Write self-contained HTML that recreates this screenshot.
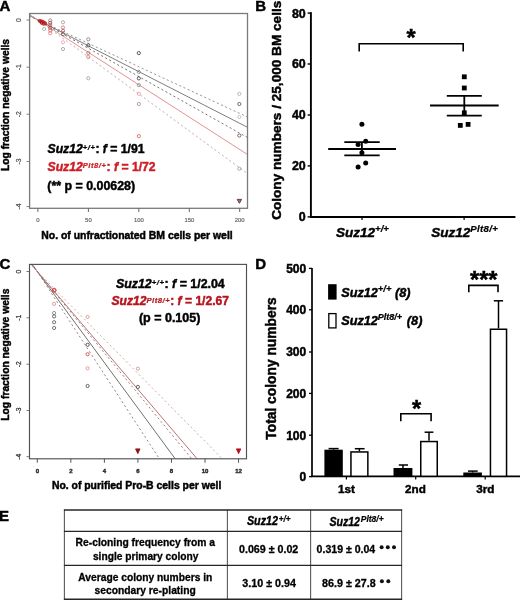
<!DOCTYPE html>
<html><head><meta charset="utf-8"><style>
html,body{margin:0;padding:0;background:#fff;width:520px;height:600px;overflow:hidden}
svg{display:block;filter:blur(0.3px)}
text{font-family:"Liberation Sans", sans-serif}
</style></head><body>
<svg width="520" height="600" viewBox="0 0 520 600">
<rect width="520" height="600" fill="#fff"/>
<text x="-0.5" y="11.0" font-size="15.0" font-weight="bold" font-style="normal" fill="#000" text-anchor="start" stroke="#000" stroke-width="0.45" >A</text>
<text x="255.2" y="10.8" font-size="15.0" font-weight="bold" font-style="normal" fill="#000" text-anchor="start" stroke="#000" stroke-width="0.45" >B</text>
<text x="-0.5" y="269" font-size="15.0" font-weight="bold" font-style="normal" fill="#000" text-anchor="start" stroke="#000" stroke-width="0.45" >C</text>
<text x="255.2" y="268.8" font-size="15.0" font-weight="bold" font-style="normal" fill="#000" text-anchor="start" stroke="#000" stroke-width="0.45" >D</text>
<text x="-1.0" y="521.2" font-size="15.0" font-weight="bold" font-style="normal" fill="#000" text-anchor="start" stroke="#000" stroke-width="0.45" >E</text>
<defs><clipPath id="cA"><rect x="30" y="14" width="217" height="193.5"/></clipPath><clipPath id="cC"><rect x="30" y="264.8" width="216.5" height="193.7"/></clipPath></defs>
<g>
<line x1="29" y1="15.88" x2="248" y2="117.23" stroke="#959595" stroke-width="1.0" stroke-dasharray="2.1 2.5" clip-path="url(#cA)"/>
<line x1="29" y1="15.44" x2="248" y2="127.56" stroke="#6e6e6e" stroke-width="0.9"  clip-path="url(#cA)"/>
<line x1="29" y1="15.01" x2="248" y2="137.78" stroke="#7a7272" stroke-width="1.0" stroke-dasharray="2.1 2.5" clip-path="url(#cA)"/>
<line x1="29" y1="14.29" x2="248" y2="154.82" stroke="#df8686" stroke-width="0.9"  clip-path="url(#cA)"/>
<line x1="29" y1="13.48" x2="248" y2="173.97" stroke="#c4acac" stroke-width="1.0" stroke-dasharray="2.1 2.5" clip-path="url(#cA)"/>
</g>
<circle cx="44.1" cy="29" r="1.6" fill="none" stroke="#9aa" stroke-width="0.8"/>
<circle cx="50.2" cy="20.4" r="1.6" fill="none" stroke="#977" stroke-width="0.8"/>
<circle cx="50.2" cy="22.8" r="1.6" fill="none" stroke="#844" stroke-width="0.8"/>
<circle cx="50.2" cy="25.2" r="1.6" fill="none" stroke="#a55" stroke-width="0.8"/>
<circle cx="50.2" cy="27.8" r="1.6" fill="none" stroke="#c44" stroke-width="0.8"/>
<circle cx="50.2" cy="30.4" r="1.6" fill="none" stroke="#c55" stroke-width="0.8"/>
<circle cx="50.2" cy="33.2" r="1.6" fill="none" stroke="#d77" stroke-width="0.8"/>
<circle cx="63" cy="22.3" r="1.6" fill="none" stroke="#999" stroke-width="0.8"/>
<circle cx="63" cy="27.5" r="1.6" fill="none" stroke="#d66" stroke-width="0.8"/>
<circle cx="63" cy="30.8" r="1.6" fill="none" stroke="#a55" stroke-width="0.8"/>
<circle cx="63" cy="34.2" r="1.6" fill="none" stroke="#666" stroke-width="0.8"/>
<circle cx="63" cy="42.3" r="1.6" fill="none" stroke="#e9a" stroke-width="0.8"/>
<circle cx="63" cy="49" r="1.6" fill="none" stroke="#999" stroke-width="0.8"/>
<circle cx="88.3" cy="39.3" r="1.6" fill="none" stroke="#877" stroke-width="0.8"/>
<circle cx="88.3" cy="45.4" r="1.6" fill="none" stroke="#333" stroke-width="0.8"/>
<circle cx="88.3" cy="53" r="1.6" fill="none" stroke="#b66" stroke-width="0.8"/>
<circle cx="88.3" cy="57" r="1.6" fill="none" stroke="#c77" stroke-width="0.8"/>
<circle cx="88.3" cy="78.3" r="1.6" fill="none" stroke="#999" stroke-width="0.8"/>
<circle cx="138.8" cy="53.1" r="1.6" fill="none" stroke="#333" stroke-width="0.8"/>
<circle cx="138.8" cy="71.9" r="1.6" fill="none" stroke="#888" stroke-width="0.8"/>
<circle cx="138.8" cy="78.4" r="1.6" fill="none" stroke="#333" stroke-width="0.8"/>
<circle cx="138.8" cy="85.1" r="1.6" fill="none" stroke="#888" stroke-width="0.8"/>
<circle cx="138.8" cy="93.8" r="1.6" fill="none" stroke="#e9a" stroke-width="0.8"/>
<circle cx="138.8" cy="104" r="1.6" fill="none" stroke="#a88" stroke-width="0.8"/>
<circle cx="138.8" cy="136.1" r="1.6" fill="none" stroke="#d55" stroke-width="0.8"/>
<circle cx="239.3" cy="93.8" r="1.6" fill="none" stroke="#aaa" stroke-width="0.8"/>
<circle cx="239.3" cy="104" r="1.6" fill="none" stroke="#644" stroke-width="0.8"/>
<circle cx="239.3" cy="117" r="1.6" fill="none" stroke="#bbb" stroke-width="0.8"/>
<circle cx="239.3" cy="135.5" r="1.6" fill="none" stroke="#644" stroke-width="0.8"/>
<circle cx="239.3" cy="168.7" r="1.6" fill="none" stroke="#999" stroke-width="0.8"/>
<circle cx="39.6" cy="20.9" r="1.45" fill="#d04040" fill-opacity="0.6" stroke="#b81414" stroke-width="0.9"/>
<circle cx="41.0" cy="21.3" r="1.45" fill="#d04040" fill-opacity="0.6" stroke="#b81414" stroke-width="0.9"/>
<circle cx="42.4" cy="21.8" r="1.45" fill="#d04040" fill-opacity="0.6" stroke="#b81414" stroke-width="0.9"/>
<circle cx="43.8" cy="22.4" r="1.45" fill="#d04040" fill-opacity="0.6" stroke="#b81414" stroke-width="0.9"/>
<circle cx="45.2" cy="23.3" r="1.45" fill="#d04040" fill-opacity="0.6" stroke="#b81414" stroke-width="0.9"/>
<circle cx="41.6" cy="22.9" r="1.45" fill="#d04040" fill-opacity="0.6" stroke="#b81414" stroke-width="0.9"/>
<circle cx="43.6" cy="23.9" r="1.45" fill="#d04040" fill-opacity="0.6" stroke="#b81414" stroke-width="0.9"/>
<path d="M237.2,199.4 L241.6,199.4 L239.4,203.3 Z" fill="#a07080" stroke="#6a3a4a" stroke-width="1"/>
<rect x="29.6" y="13.5" width="217.9" height="194.8" fill="none" stroke="#7a7a7a" stroke-width="1.3"/>
<line x1="26.50" y1="20.00" x2="29.50" y2="20.00" stroke="#777" stroke-width="0.9" />
<text transform="translate(20.8,20) rotate(-90)" font-size="6.8" fill="#555" stroke="#555" stroke-width="0.25" text-anchor="middle">0</text>
<line x1="26.50" y1="67.20" x2="29.50" y2="67.20" stroke="#777" stroke-width="0.9" />
<text transform="translate(20.8,67.2) rotate(-90)" font-size="6.8" fill="#555" stroke="#555" stroke-width="0.25" text-anchor="middle">-1</text>
<line x1="26.50" y1="114.20" x2="29.50" y2="114.20" stroke="#777" stroke-width="0.9" />
<text transform="translate(20.8,114.2) rotate(-90)" font-size="6.8" fill="#555" stroke="#555" stroke-width="0.25" text-anchor="middle">-2</text>
<line x1="26.50" y1="161.50" x2="29.50" y2="161.50" stroke="#777" stroke-width="0.9" />
<text transform="translate(20.8,161.5) rotate(-90)" font-size="6.8" fill="#555" stroke="#555" stroke-width="0.25" text-anchor="middle">-3</text>
<line x1="26.50" y1="206.60" x2="29.50" y2="206.60" stroke="#777" stroke-width="0.9" />
<text transform="translate(20.8,206.6) rotate(-90)" font-size="6.8" fill="#555" stroke="#555" stroke-width="0.25" text-anchor="middle">-4</text>
<line x1="37.90" y1="208.30" x2="37.90" y2="212.00" stroke="#666" stroke-width="1.0" />
<text x="37.9" y="222.0" font-size="5.9" font-weight="normal" font-style="normal" fill="#666" text-anchor="middle" stroke="#666" stroke-width="0.2" >0</text>
<line x1="88.40" y1="208.30" x2="88.40" y2="212.00" stroke="#666" stroke-width="1.0" />
<text x="88.4" y="222.0" font-size="5.9" font-weight="normal" font-style="normal" fill="#666" text-anchor="middle" stroke="#666" stroke-width="0.2" >50</text>
<line x1="138.80" y1="208.30" x2="138.80" y2="212.00" stroke="#666" stroke-width="1.0" />
<text x="138.8" y="222.0" font-size="5.9" font-weight="normal" font-style="normal" fill="#666" text-anchor="middle" stroke="#666" stroke-width="0.2" >100</text>
<line x1="189.30" y1="208.30" x2="189.30" y2="212.00" stroke="#666" stroke-width="1.0" />
<text x="189.3" y="222.0" font-size="5.9" font-weight="normal" font-style="normal" fill="#666" text-anchor="middle" stroke="#666" stroke-width="0.2" >150</text>
<line x1="239.70" y1="208.30" x2="239.70" y2="212.00" stroke="#666" stroke-width="1.0" />
<text x="239.7" y="222.0" font-size="5.9" font-weight="normal" font-style="normal" fill="#666" text-anchor="middle" stroke="#666" stroke-width="0.2" >200</text>
<text x="41.3" y="238.9" font-size="10.42" font-weight="bold" font-style="normal" fill="#000" text-anchor="start" stroke="#000" stroke-width="0.45" >No. of unfractionated BM cells per well</text>
<text transform="translate(8.6,105) rotate(-90)" x="0" y="0" font-size="10.3" font-weight="bold" fill="#000" stroke="#000" stroke-width="0.45" text-anchor="middle" >Log fraction negative wells</text>
<text x="47.5" y="152.5" font-size="12.2" font-weight="bold" fill="#000" stroke="#000" stroke-width="0.45" text-anchor="start"><tspan font-style="italic">Suz12</tspan><tspan font-style="italic" font-size="7.6" dy="-2.60" letter-spacing="0.55" stroke-width="0.23">+/+</tspan><tspan dy="2.60">: </tspan><tspan font-style="italic">f</tspan><tspan> = 1/91</tspan></text>
<text x="47.5" y="170.5" font-size="12.2" font-weight="bold" fill="#d01c24" stroke="#d01c24" stroke-width="0.45" text-anchor="start"><tspan font-style="italic">Suz12</tspan><tspan font-style="italic" font-size="7.6" dy="-2.60" letter-spacing="0.55" stroke-width="0.23">Plt8/+</tspan><tspan dy="2.60">: </tspan><tspan font-style="italic">f</tspan><tspan> = 1/72</tspan></text>
<text x="47.3" y="190.2" font-size="12.4" font-weight="bold" font-style="normal" fill="#000" text-anchor="start" stroke="#000" stroke-width="0.45" >(** p = 0.00628)</text>
<g>
<line x1="29" y1="258.77" x2="248" y2="594.72" stroke="#9a8888" stroke-width="1.0" stroke-dasharray="2.1 2.5" clip-path="url(#cC)"/>
<line x1="29" y1="260.23" x2="248" y2="557.64" stroke="#606060" stroke-width="0.9"  clip-path="url(#cC)"/>
<line x1="29" y1="261.43" x2="248" y2="527.02" stroke="#9a8484" stroke-width="1.0" stroke-dasharray="2.1 2.5" clip-path="url(#cC)"/>
<line x1="29" y1="261.78" x2="248" y2="518.37" stroke="#b06464" stroke-width="0.9"  clip-path="url(#cC)"/>
<line x1="29" y1="263.10" x2="248" y2="484.82" stroke="#d0acac" stroke-width="1.0" stroke-dasharray="2.1 2.5" clip-path="url(#cC)"/>
</g>
<circle cx="54.1" cy="290.3" r="1.6" fill="none" stroke="#c44" stroke-width="0.8"/>
<circle cx="54.1" cy="303.9" r="1.6" fill="none" stroke="#d88" stroke-width="0.8"/>
<circle cx="54.1" cy="313" r="1.6" fill="none" stroke="#777" stroke-width="0.8"/>
<circle cx="54.1" cy="316.4" r="1.6" fill="none" stroke="#444" stroke-width="0.8"/>
<circle cx="54.1" cy="322.2" r="1.6" fill="none" stroke="#555" stroke-width="0.8"/>
<circle cx="54.1" cy="328" r="1.6" fill="none" stroke="#555" stroke-width="0.8"/>
<circle cx="87.6" cy="316.9" r="1.6" fill="none" stroke="#d88" stroke-width="0.8"/>
<circle cx="87.6" cy="344.8" r="1.6" fill="none" stroke="#333" stroke-width="0.8"/>
<circle cx="87.6" cy="354.2" r="1.6" fill="none" stroke="#b44" stroke-width="0.8"/>
<circle cx="87.6" cy="368.3" r="1.6" fill="none" stroke="#d88" stroke-width="0.8"/>
<circle cx="87.6" cy="386" r="1.6" fill="none" stroke="#444" stroke-width="0.8"/>
<circle cx="137.9" cy="368.7" r="1.6" fill="none" stroke="#d88" stroke-width="0.8"/>
<circle cx="137.9" cy="386.9" r="1.6" fill="none" stroke="#444" stroke-width="0.8"/>
<circle cx="54.1" cy="290.3" r="2.0" fill="none" stroke="#c44" stroke-width="0.9"/>
<path d="M135.60000000000002,448.9 L140.0,448.9 L137.8,453.6 Z" fill="#8a1418" stroke="#8a1418" stroke-width="0.9" stroke-linejoin="round"/>
<path d="M236.4,448.9 L240.79999999999998,448.9 L238.6,453.6 Z" fill="#b8101c" stroke="#b8101c" stroke-width="0.9" stroke-linejoin="round"/>
<rect x="29.5" y="264.4" width="217" height="194.4" fill="none" stroke="#505050" stroke-width="1.15"/>
<line x1="26.50" y1="271.50" x2="29.50" y2="271.50" stroke="#555" stroke-width="0.8" />
<text transform="translate(20.8,271.5) rotate(-90)" font-size="6.8" fill="#333" stroke="#333" stroke-width="0.25" text-anchor="middle">0</text>
<line x1="26.50" y1="317.80" x2="29.50" y2="317.80" stroke="#555" stroke-width="0.8" />
<text transform="translate(20.8,317.8) rotate(-90)" font-size="6.8" fill="#333" stroke="#333" stroke-width="0.25" text-anchor="middle">-1</text>
<line x1="26.50" y1="364.20" x2="29.50" y2="364.20" stroke="#555" stroke-width="0.8" />
<text transform="translate(20.8,364.2) rotate(-90)" font-size="6.8" fill="#333" stroke="#333" stroke-width="0.25" text-anchor="middle">-2</text>
<line x1="26.50" y1="410.50" x2="29.50" y2="410.50" stroke="#555" stroke-width="0.8" />
<text transform="translate(20.8,410.5) rotate(-90)" font-size="6.8" fill="#333" stroke="#333" stroke-width="0.25" text-anchor="middle">-3</text>
<line x1="26.50" y1="456.70" x2="29.50" y2="456.70" stroke="#555" stroke-width="0.8" />
<text transform="translate(20.8,456.7) rotate(-90)" font-size="6.8" fill="#333" stroke="#333" stroke-width="0.25" text-anchor="middle">-4</text>
<line x1="37.30" y1="458.80" x2="37.30" y2="462.80" stroke="#444" stroke-width="0.9" />
<text x="37.3" y="472.9" font-size="6.0" font-weight="bold" font-style="normal" fill="#333" text-anchor="middle" stroke="#333" stroke-width="0.45" >0</text>
<line x1="70.84" y1="458.80" x2="70.84" y2="462.80" stroke="#444" stroke-width="0.9" />
<text x="70.84" y="472.9" font-size="6.0" font-weight="bold" font-style="normal" fill="#333" text-anchor="middle" stroke="#333" stroke-width="0.45" >2</text>
<line x1="104.38" y1="458.80" x2="104.38" y2="462.80" stroke="#444" stroke-width="0.9" />
<text x="104.38" y="472.9" font-size="6.0" font-weight="bold" font-style="normal" fill="#333" text-anchor="middle" stroke="#333" stroke-width="0.45" >4</text>
<line x1="137.92" y1="458.80" x2="137.92" y2="462.80" stroke="#444" stroke-width="0.9" />
<text x="137.92000000000002" y="472.9" font-size="6.0" font-weight="bold" font-style="normal" fill="#333" text-anchor="middle" stroke="#333" stroke-width="0.45" >6</text>
<line x1="171.46" y1="458.80" x2="171.46" y2="462.80" stroke="#444" stroke-width="0.9" />
<text x="171.45999999999998" y="472.9" font-size="6.0" font-weight="bold" font-style="normal" fill="#333" text-anchor="middle" stroke="#333" stroke-width="0.45" >8</text>
<line x1="205.00" y1="458.80" x2="205.00" y2="462.80" stroke="#444" stroke-width="0.9" />
<text x="205.0" y="472.9" font-size="6.0" font-weight="bold" font-style="normal" fill="#333" text-anchor="middle" stroke="#333" stroke-width="0.45" >10</text>
<line x1="238.54" y1="458.80" x2="238.54" y2="462.80" stroke="#444" stroke-width="0.9" />
<text x="238.54000000000002" y="472.9" font-size="6.0" font-weight="bold" font-style="normal" fill="#333" text-anchor="middle" stroke="#333" stroke-width="0.45" >12</text>
<text x="51.9" y="488.6" font-size="10.42" font-weight="bold" font-style="normal" fill="#000" text-anchor="start" stroke="#000" stroke-width="0.45" >No. of purified Pro-B cells per well</text>
<text transform="translate(8.6,354.7) rotate(-90)" x="0" y="0" font-size="10.3" font-weight="bold" fill="#000" stroke="#000" stroke-width="0.45" text-anchor="middle" >Log fraction negative wells</text>
<text x="115.9" y="287.9" font-size="12.4" font-weight="bold" fill="#000" stroke="#000" stroke-width="0.45" text-anchor="start"><tspan font-style="italic">Suz12</tspan><tspan font-style="italic" font-size="7.7" dy="-2.70" letter-spacing="0.55" stroke-width="0.23">+/+</tspan><tspan dy="2.70">: </tspan><tspan font-style="italic">f</tspan><tspan> = 1/2.04</tspan></text>
<text x="111.5" y="305.2" font-size="12.1" font-weight="bold" fill="#b8141e" stroke="#b8141e" stroke-width="0.45" text-anchor="start"><tspan font-style="italic">Suz12</tspan><tspan font-style="italic" font-size="7.7" dy="-2.70" letter-spacing="0.5" stroke-width="0.23">Plt8/+</tspan><tspan dy="2.70">: </tspan><tspan font-style="italic">f</tspan><tspan> = 1/2.67</tspan></text>
<text x="138.9" y="322.2" font-size="12.5" font-weight="bold" font-style="normal" fill="#000" text-anchor="start" stroke="#000" stroke-width="0.45" >(p = 0.105)</text>
<line x1="310.90" y1="12.10" x2="310.90" y2="218.00" stroke="#000" stroke-width="1.9" />
<line x1="310.00" y1="217.00" x2="515.40" y2="217.00" stroke="#000" stroke-width="1.9" />
<line x1="307.60" y1="13.10" x2="310.50" y2="13.10" stroke="#000" stroke-width="1.4" />
<text x="305.7" y="17.5" font-size="12.4" font-weight="bold" font-style="normal" fill="#000" text-anchor="end" stroke="#000" stroke-width="0.45" >80</text>
<line x1="307.60" y1="64.00" x2="310.50" y2="64.00" stroke="#000" stroke-width="1.4" />
<text x="305.7" y="68.4" font-size="12.4" font-weight="bold" font-style="normal" fill="#000" text-anchor="end" stroke="#000" stroke-width="0.45" >60</text>
<line x1="307.60" y1="115.00" x2="310.50" y2="115.00" stroke="#000" stroke-width="1.4" />
<text x="305.7" y="119.4" font-size="12.4" font-weight="bold" font-style="normal" fill="#000" text-anchor="end" stroke="#000" stroke-width="0.45" >40</text>
<line x1="307.60" y1="165.90" x2="310.50" y2="165.90" stroke="#000" stroke-width="1.4" />
<text x="305.7" y="170.3" font-size="12.4" font-weight="bold" font-style="normal" fill="#000" text-anchor="end" stroke="#000" stroke-width="0.45" >20</text>
<line x1="307.60" y1="216.90" x2="310.50" y2="216.90" stroke="#000" stroke-width="1.4" />
<text x="305.7" y="221.3" font-size="12.4" font-weight="bold" font-style="normal" fill="#000" text-anchor="end" stroke="#000" stroke-width="0.45" >0</text>
<line x1="362.00" y1="217.00" x2="362.00" y2="220.00" stroke="#000" stroke-width="1.2" />
<line x1="464.10" y1="217.00" x2="464.10" y2="220.00" stroke="#000" stroke-width="1.2" />
<text x="336" y="237" font-size="13.5" font-weight="bold" fill="#000" stroke="#000" stroke-width="0.45" text-anchor="start"><tspan font-style="italic">Suz12</tspan><tspan font-style="italic" font-size="9.6" dy="-4.80" stroke-width="0.23">+/+</tspan></text>
<text x="431.2" y="237" font-size="13.5" font-weight="bold" fill="#000" stroke="#000" stroke-width="0.45" text-anchor="start"><tspan font-style="italic">Suz12</tspan><tspan font-style="italic" font-size="9.6" dy="-4.80" letter-spacing="0.35" stroke-width="0.23">Plt8/+</tspan></text>
<text transform="translate(280.6,110.3) rotate(-90)" x="0" y="0" font-size="13.6" font-weight="bold" fill="#000" stroke="#000" stroke-width="0.45" text-anchor="middle" >Colony numbers / 25,000 BM cells</text>
<line x1="328.20" y1="149.00" x2="396.00" y2="149.00" stroke="#000" stroke-width="1.8" />
<line x1="344.30" y1="142.20" x2="379.70" y2="142.20" stroke="#000" stroke-width="1.8" />
<line x1="344.30" y1="155.40" x2="379.70" y2="155.40" stroke="#000" stroke-width="1.8" />
<line x1="361.90" y1="142.20" x2="361.90" y2="155.40" stroke="#000" stroke-width="1.8" />
<circle cx="361.9" cy="124.2" r="2.5" fill="#000"/>
<circle cx="365.7" cy="141.2" r="2.5" fill="#000"/>
<circle cx="358.1" cy="144.6" r="2.5" fill="#000"/>
<circle cx="361.9" cy="152.8" r="2.5" fill="#000"/>
<circle cx="365.7" cy="163.1" r="2.5" fill="#000"/>
<circle cx="358.1" cy="167.1" r="2.5" fill="#000"/>
<line x1="430.00" y1="105.50" x2="498.70" y2="105.50" stroke="#000" stroke-width="1.8" />
<line x1="446.80" y1="95.80" x2="481.80" y2="95.80" stroke="#000" stroke-width="1.8" />
<line x1="446.80" y1="115.70" x2="481.80" y2="115.70" stroke="#000" stroke-width="1.8" />
<line x1="464.30" y1="95.80" x2="464.30" y2="115.70" stroke="#000" stroke-width="1.8" />
<rect x="461.90000000000003" y="74.39999999999999" width="4.8" height="4.8" fill="#000"/>
<rect x="461.90000000000003" y="85.6" width="4.8" height="4.8" fill="#000"/>
<rect x="461.90000000000003" y="110.39999999999999" width="4.8" height="4.8" fill="#000"/>
<rect x="457.90000000000003" y="123.0" width="4.8" height="4.8" fill="#000"/>
<rect x="465.70000000000005" y="122.0" width="4.8" height="4.8" fill="#000"/>
<path d="M359.2,51.4 V43.8 H463.2 V51.4" fill="none" stroke="#000" stroke-width="1.6"/>
<text x="411.2" y="45.6" font-size="23.5" font-weight="bold" font-style="normal" fill="#000" text-anchor="middle" stroke="#000" stroke-width="0.45" >*</text>
<line x1="312.00" y1="268.00" x2="312.00" y2="477.00" stroke="#000" stroke-width="1.7" />
<line x1="311.20" y1="476.30" x2="520.00" y2="476.30" stroke="#000" stroke-width="1.7" />
<line x1="309.00" y1="268.40" x2="312.00" y2="268.40" stroke="#000" stroke-width="1.3" />
<text x="306.2" y="272.7" font-size="12" font-weight="bold" font-style="normal" fill="#000" text-anchor="end" stroke="#000" stroke-width="0.45" >500</text>
<line x1="309.00" y1="309.80" x2="312.00" y2="309.80" stroke="#000" stroke-width="1.3" />
<text x="306.2" y="314.1" font-size="12" font-weight="bold" font-style="normal" fill="#000" text-anchor="end" stroke="#000" stroke-width="0.45" >400</text>
<line x1="309.00" y1="352.00" x2="312.00" y2="352.00" stroke="#000" stroke-width="1.3" />
<text x="306.2" y="356.3" font-size="12" font-weight="bold" font-style="normal" fill="#000" text-anchor="end" stroke="#000" stroke-width="0.45" >300</text>
<line x1="309.00" y1="393.40" x2="312.00" y2="393.40" stroke="#000" stroke-width="1.3" />
<text x="306.2" y="397.7" font-size="12" font-weight="bold" font-style="normal" fill="#000" text-anchor="end" stroke="#000" stroke-width="0.45" >200</text>
<line x1="309.00" y1="435.20" x2="312.00" y2="435.20" stroke="#000" stroke-width="1.3" />
<text x="306.2" y="439.5" font-size="12" font-weight="bold" font-style="normal" fill="#000" text-anchor="end" stroke="#000" stroke-width="0.45" >100</text>
<line x1="309.00" y1="476.60" x2="312.00" y2="476.60" stroke="#000" stroke-width="1.3" />
<text x="306.2" y="480.90000000000003" font-size="12" font-weight="bold" font-style="normal" fill="#000" text-anchor="end" stroke="#000" stroke-width="0.45" >0</text>
<text transform="translate(275.9,368.5) rotate(-90)" x="0" y="0" font-size="13.8" font-weight="bold" fill="#000" stroke="#000" stroke-width="0.45" text-anchor="middle" >Total colony numbers</text>
<rect x="328.1" y="284.2" width="8.5" height="15.4" fill="#000"/>
<rect x="328.8" y="313.6" width="7.2" height="14.3" fill="#fff" stroke="#000" stroke-width="1.3"/>
<text x="341.2" y="297.3" font-size="12.7" font-weight="bold" fill="#000" stroke="#000" stroke-width="0.45" text-anchor="start"><tspan font-style="italic">Suz12</tspan><tspan font-style="italic" font-size="9.4" dy="-5.00" stroke-width="0.23">+/+</tspan><tspan font-style="italic" dy="5.00"> (8)</tspan></text>
<text x="341.2" y="325" font-size="12.7" font-weight="bold" fill="#000" stroke="#000" stroke-width="0.45" text-anchor="start"><tspan font-style="italic">Suz12</tspan><tspan font-style="italic" font-size="9.0" dy="-5.00" stroke-width="0.23">Plt8/+</tspan><tspan font-style="italic" dy="5.00" dx="1.2"> (8)</tspan></text>
<line x1="333.60" y1="448.60" x2="333.60" y2="449.70" stroke="#000" stroke-width="1.5" />
<line x1="328.60" y1="448.60" x2="338.60" y2="448.60" stroke="#000" stroke-width="1.5" />
<rect x="325.15" y="450.45" width="16.900000000000034" height="25.850000000000023" fill="#000" stroke="#000" stroke-width="1.5"/>
<line x1="359.40" y1="448.70" x2="359.40" y2="451.20" stroke="#000" stroke-width="1.5" />
<line x1="354.80" y1="448.70" x2="364.60" y2="448.70" stroke="#000" stroke-width="1.5" />
<rect x="350.95" y="451.95" width="16.900000000000034" height="24.350000000000023" fill="#fff" stroke="#000" stroke-width="1.5"/>
<line x1="402.95" y1="465.00" x2="402.95" y2="468.00" stroke="#000" stroke-width="1.5" />
<line x1="398.80" y1="465.00" x2="408.00" y2="465.00" stroke="#000" stroke-width="1.5" />
<rect x="394.25" y="468.75" width="17.399999999999977" height="7.550000000000011" fill="#000" stroke="#000" stroke-width="1.5"/>
<line x1="429.00" y1="432.20" x2="429.00" y2="440.80" stroke="#000" stroke-width="1.5" />
<line x1="424.60" y1="432.20" x2="433.40" y2="432.20" stroke="#000" stroke-width="1.5" />
<rect x="420.75" y="441.55" width="16.5" height="34.75" fill="#fff" stroke="#000" stroke-width="1.5"/>
<line x1="472.60" y1="471.10" x2="472.60" y2="472.50" stroke="#000" stroke-width="1.5" />
<line x1="468.00" y1="471.10" x2="477.70" y2="471.10" stroke="#000" stroke-width="1.5" />
<rect x="464.05" y="473.25" width="17.099999999999966" height="3.0500000000000114" fill="#000" stroke="#000" stroke-width="1.5"/>
<line x1="498.50" y1="300.80" x2="498.50" y2="328.50" stroke="#000" stroke-width="1.5" />
<line x1="493.80" y1="300.80" x2="503.10" y2="300.80" stroke="#000" stroke-width="1.5" />
<rect x="490.45" y="329.25" width="16.100000000000023" height="147.05" fill="#fff" stroke="#000" stroke-width="1.5"/>
<path d="M400.8,421.2 V413.8 H431.1 V421.2" fill="none" stroke="#000" stroke-width="1.6"/>
<text x="416.5" y="416.8" font-size="23.5" font-weight="bold" font-style="normal" fill="#000" text-anchor="middle" stroke="#000" stroke-width="0.45" >*</text>
<path d="M468.8,292.3 V285.4 H498 V292.3" fill="none" stroke="#000" stroke-width="1.6"/>
<text x="483.8" y="288.1" font-size="23.5" font-weight="bold" font-style="normal" fill="#000" text-anchor="middle" stroke="#000" stroke-width="0.45" >***</text>
<line x1="346.40" y1="476.30" x2="346.40" y2="479.60" stroke="#000" stroke-width="1.2" />
<line x1="415.70" y1="476.30" x2="415.70" y2="479.60" stroke="#000" stroke-width="1.2" />
<line x1="485.20" y1="476.30" x2="485.20" y2="479.60" stroke="#000" stroke-width="1.2" />
<text x="346.5" y="492.6" font-size="11.7" font-weight="bold" font-style="normal" fill="#000" text-anchor="middle" stroke="#000" stroke-width="0.45" >1st</text>
<text x="415.4" y="492.6" font-size="11.7" font-weight="bold" font-style="normal" fill="#000" text-anchor="middle" stroke="#000" stroke-width="0.45" >2nd</text>
<text x="485.4" y="492.6" font-size="11.7" font-weight="bold" font-style="normal" fill="#000" text-anchor="middle" stroke="#000" stroke-width="0.45" >3rd</text>
<line x1="64.40" y1="509.50" x2="64.40" y2="600.00" stroke="#5a5a5a" stroke-width="1.1" />
<line x1="227.40" y1="509.50" x2="227.40" y2="600.00" stroke="#5a5a5a" stroke-width="1.1" />
<line x1="310.60" y1="509.50" x2="310.60" y2="600.00" stroke="#5a5a5a" stroke-width="1.1" />
<line x1="401.60" y1="509.50" x2="401.60" y2="600.00" stroke="#5a5a5a" stroke-width="1.1" />
<line x1="63.90" y1="510.00" x2="402.10" y2="510.00" stroke="#262626" stroke-width="1.4" />
<line x1="63.90" y1="531.35" x2="402.10" y2="531.35" stroke="#262626" stroke-width="1.4" />
<line x1="63.90" y1="565.35" x2="402.10" y2="565.35" stroke="#262626" stroke-width="1.4" />
<line x1="63.90" y1="599.30" x2="402.10" y2="599.30" stroke="#262626" stroke-width="1.4" />
<text x="246.9" y="525.4" font-size="12.6" font-weight="bold" font-style="italic" fill="#000" stroke="#000" stroke-width="0.4" textLength="31.2" lengthAdjust="spacingAndGlyphs">Suz12</text>
<text x="278.8" y="522.3" font-size="8.4" font-weight="bold" font-style="italic" fill="#000" stroke="#000" stroke-width="0.2" textLength="11.8" lengthAdjust="spacingAndGlyphs">+/+</text>
<text x="329.4" y="525.6" font-size="12.6" font-weight="bold" font-style="italic" fill="#000" stroke="#000" stroke-width="0.4" textLength="30.6" lengthAdjust="spacingAndGlyphs">Suz12</text>
<text x="360.8" y="522.3" font-size="8.4" font-weight="bold" font-style="italic" fill="#000" stroke="#000" stroke-width="0.2" textLength="22.8" lengthAdjust="spacingAndGlyphs">Plt8/+</text>
<text x="75.6" y="545.8" font-size="10.3" font-weight="bold" font-style="normal" fill="#000" stroke="#000" stroke-width="0.3" textLength="139.5" lengthAdjust="spacingAndGlyphs">Re-cloning frequency from a</text>
<text x="92.9" y="560.2" font-size="10.3" font-weight="bold" font-style="normal" fill="#000" stroke="#000" stroke-width="0.3" textLength="105.6" lengthAdjust="spacingAndGlyphs">single primary colony</text>
<text x="78.3" y="580.7" font-size="10.3" font-weight="bold" font-style="normal" fill="#000" stroke="#000" stroke-width="0.3" textLength="134.0" lengthAdjust="spacingAndGlyphs">Average colony numbers in</text>
<text x="94.6" y="594.4" font-size="10.3" font-weight="bold" font-style="normal" fill="#000" stroke="#000" stroke-width="0.3" textLength="101.1" lengthAdjust="spacingAndGlyphs">secondary re-plating</text>
<text x="239.0" y="553.0" font-size="10.6" font-weight="bold" font-style="normal" fill="#000" stroke="#000" stroke-width="0.3" textLength="59.3" lengthAdjust="spacingAndGlyphs">0.069 ± 0.02</text>
<text x="316.6" y="553.0" font-size="10.6" font-weight="bold" font-style="normal" fill="#000" stroke="#000" stroke-width="0.3" textLength="58.6" lengthAdjust="spacingAndGlyphs">0.319 ± 0.04</text>
<text x="242.3" y="586.7" font-size="10.6" font-weight="bold" font-style="normal" fill="#000" stroke="#000" stroke-width="0.3" textLength="53.7" lengthAdjust="spacingAndGlyphs">3.10 ± 0.94</text>
<text x="322.1" y="586.7" font-size="10.6" font-weight="bold" font-style="normal" fill="#000" stroke="#000" stroke-width="0.3" textLength="53.6" lengthAdjust="spacingAndGlyphs">86.9 ± 27.8</text>
<circle cx="381.6" cy="547.2" r="2.0" fill="#111"/>
<circle cx="387.8" cy="547.2" r="2.0" fill="#111"/>
<circle cx="394.0" cy="547.2" r="2.0" fill="#111"/>
<circle cx="381.9" cy="581.2" r="2.0" fill="#111"/>
<circle cx="388.3" cy="581.2" r="2.0" fill="#111"/>
</svg>
</body></html>
